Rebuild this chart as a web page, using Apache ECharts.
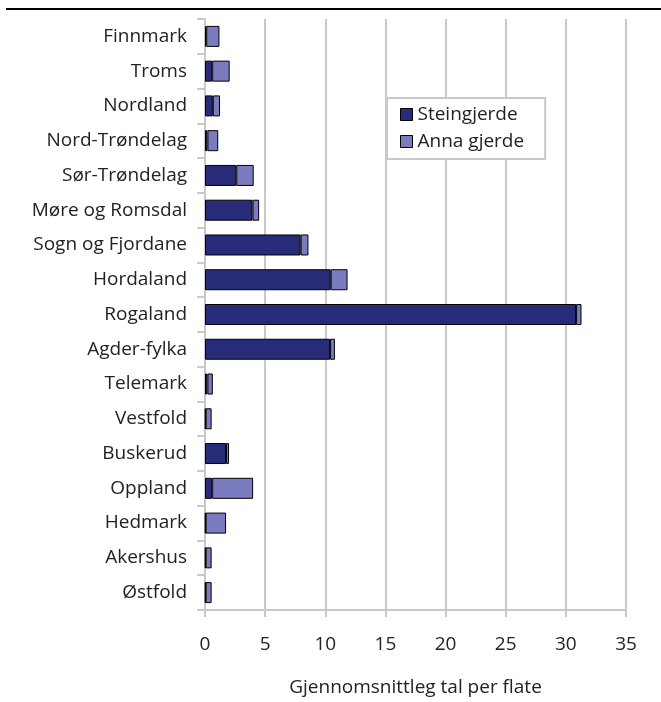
<!DOCTYPE html>
<html>
<head>
<meta charset="utf-8">
<script src="https://cdn.jsdelivr.net/npm/echarts@6/dist/echarts.min.js"></script>
<style>
  html, body { margin: 0; padding: 0; background: #fff; }
  #chart { width: 661px; height: 702px; }
</style>
</head>
<body>
<div id="chart"></div>
<script>
// Fylke, frå nord til sør
const fylke = [
  'Finnmark', 'Troms', 'Nordland', 'Nord-Trøndelag', 'Sør-Trøndelag',
  'Møre og Romsdal', 'Sogn og Fjordane', 'Hordaland', 'Rogaland', 'Agder-fylka',
  'Telemark', 'Vestfold', 'Buskerud', 'Oppland', 'Hedmark', 'Akershus', 'Østfold'
];

// Gjennomsnittleg tal per flate
const steingjerde = [0.1, 0.6, 0.65, 0.2, 2.6, 3.95, 7.95, 10.45, 30.85, 10.4, 0.2, 0.05, 1.75, 0.6, 0.05, 0.05, 0.05];
const annaGjerde  = [1.1, 1.45, 0.6, 0.9, 1.45, 0.55, 0.65, 1.4, 0.45, 0.4, 0.45, 0.5, 0.25, 3.4, 1.7, 0.5, 0.5];

const xTicks = { min: 0, max: 35, interval: 5 };

const fontFamily = '"Open Sans", "Noto Sans", sans-serif';
const gridGrey = '#c9c9c9';
const textColour = '#222';

const chart = echarts.init(document.getElementById('chart'));

chart.setOption({
  animation: false,
  backgroundColor: '#ffffff',
  textStyle: { fontFamily: fontFamily },
  graphic: [{
    type: 'line',
    shape: { x1: 6, y1: 9, x2: 661, y2: 9 },
    style: { stroke: '#000', lineWidth: 2 }
  }],
  grid: { left: 205, right: 35, top: 19, bottom: 92, containLabel: false },
  legend: {
    orient: 'vertical',
    left: 387,
    top: 98,
    padding: [6, 21, 7, 13],
    itemGap: 6,
    itemWidth: 12,
    itemHeight: 12,
    icon: 'rect',
    backgroundColor: '#fff',
    borderColor: '#c9c9c9',
    borderWidth: 2,
    textStyle: { fontSize: 19, lineHeight: 21, color: textColour, fontFamily: fontFamily, padding: [0, 0, 0, 0] },
    data: [
      { name: 'Steingjerde', itemStyle: { borderColor: '#000', borderWidth: 1 } },
      { name: 'Anna gjerde', itemStyle: { borderColor: '#000', borderWidth: 1 } }
    ]
  },
  xAxis: {
    type: 'value',
    min: xTicks.min,
    max: xTicks.max,
    interval: xTicks.interval,
    name: 'Gjennomsnittleg tal per flate',
    nameLocation: 'middle',
    nameGap: 68,
    nameTextStyle: { fontSize: 19, color: textColour },
    axisLine: { show: true, lineStyle: { color: gridGrey, width: 2 } },
    axisTick: { show: true, length: 7, lineStyle: { color: gridGrey, width: 2 } },
    axisLabel: { fontSize: 19, color: textColour, margin: 25 },
    splitLine: { show: true, lineStyle: { color: gridGrey, width: 2 } }
  },
  yAxis: {
    type: 'category',
    data: fylke,
    inverse: true,
    axisLine: { show: true, lineStyle: { color: gridGrey, width: 2 } },
    axisTick: { show: true, length: 8, lineStyle: { color: gridGrey, width: 2 } },
    axisLabel: { fontSize: 19, color: textColour, margin: 18 },
    splitLine: { show: false }
  },
  series: [
    {
      name: 'Steingjerde',
      type: 'bar',
      stack: 'gjerde',
      data: steingjerde,
      barWidth: 21,
      itemStyle: { color: '#282c78', borderColor: '#000', borderWidth: 1 }
    },
    {
      name: 'Anna gjerde',
      type: 'bar',
      stack: 'gjerde',
      data: annaGjerde,
      barWidth: 21,
      itemStyle: { color: '#7b7bbf', borderColor: '#000', borderWidth: 1 }
    }
  ]
});
</script>
</body>
</html>
